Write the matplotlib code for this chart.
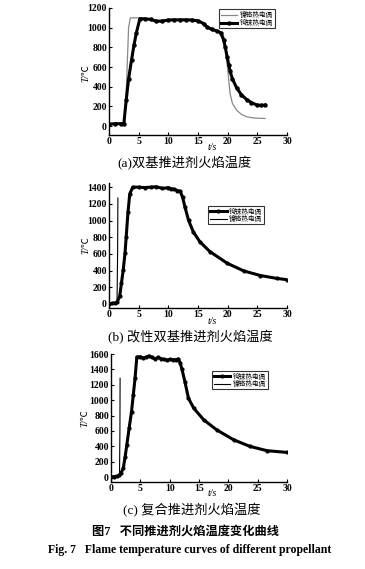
import matplotlib
matplotlib.use("Agg")
import matplotlib.pyplot as plt

plt.rcParams['font.family'] = ['Liberation Serif', 'Noto Sans CJK SC']

# ---- data (a) ----
a_wre_t = [0, 1, 2, 2.5, 2.9, 3.3, 3.8, 4.2, 4.6, 5.2, 6, 7, 8, 9, 10, 11, 12, 13, 14, 15, 16, 16.5, 17.3, 18.2, 18.8, 19.3, 19.6, 19.9, 20.2, 20.4, 20.8, 21.5, 22.3, 23.2, 24, 24.9, 25.6, 26.3]
a_wre_T = [20, 25, 25, 25, 265, 480, 673, 820, 945, 1090, 1090, 1085, 1065, 1068, 1078, 1080, 1080, 1080, 1078, 1070, 1040, 1005, 985, 965, 950, 880, 800, 707, 620, 560, 480, 390, 320, 270, 240, 215, 210, 215]
a_nicr_t = [0, 1, 2, 2.7, 3.0, 3.3, 3.6, 4.5, 5.2, 6, 8, 10, 14, 15, 17, 18.5, 19.3, 19.7, 20.1, 20.4, 20.8, 21.5, 22.3, 23.2, 24.5, 26.3]
a_nicr_T = [20, 25, 25, 30, 500, 1000, 1100, 1100, 1100, 1095, 1070, 1078, 1080, 1070, 1000, 965, 920, 740, 520, 333, 230, 163, 120, 95, 82, 78]

# ---- data (b) ----
b_wre_t = [0, 0.5, 1.0, 1.4, 1.8, 2.1, 2.4, 2.7, 2.9, 3.2, 3.5, 4.0, 5, 6, 7, 8, 9, 10, 10.5, 11, 11.5, 12, 12.4, 12.8, 13.4, 14.2, 15.3, 17, 19.9, 22.7, 25.5, 28.3, 30]
b_wre_T = [0, 5, 10, 25, 90, 250, 410, 610, 805, 1100, 1320, 1400, 1400, 1395, 1400, 1405, 1385, 1395, 1380, 1375, 1360, 1350, 1280, 1163, 1004, 865, 746, 627, 488, 395, 340, 305, 290]
b_nicr_t = [0, 1.0, 1.35, 1.45, 1.5]
b_nicr_T = [0, 0, 20, 600, 1270]

# ---- data (c) ----
c_wre_t = [0, 0.5, 1.0, 1.3, 1.7, 2.1, 2.4, 2.7, 3.1, 3.5, 3.8, 4.1, 4.4, 5, 5.5, 6, 6.5, 7, 7.5, 8, 8.5, 9, 9.5, 10, 10.5, 11, 11.5, 11.8, 12.1, 12.6, 13.2, 14.1, 15.8, 18, 20.9, 23.7, 26.6, 30]
c_wre_T = [0, 5, 10, 20, 50, 117, 260, 420, 640, 852, 1070, 1284, 1560, 1565, 1545, 1560, 1575, 1555, 1535, 1555, 1540, 1530, 1520, 1530, 1525, 1525, 1535, 1480, 1400, 1240, 1025, 895, 744, 614, 484, 398, 342, 320]
c_nicr_t = [0, 1.0, 1.45, 1.52, 1.55]
c_nicr_T = [0, 0, 20, 600, 1284]

lab_nicr = '镍铬热电偶'
lab_wre = '钨铼热电偶'

fig = plt.figure(figsize=(3.65, 5.69), dpi=100)
W, H = 365, 569

def make_ax(left, right, top, bottom):
    return fig.add_axes([left / W, 1 - bottom / H, (right - left) / W, (bottom - top) / H])

def style(ax, ylim, yticks, box, xlab_y, ylab_x, ylab_y):
    left, right, top, bottom = box
    ax.set_xlim(0, 30)
    ax.set_ylim(*ylim)
    ax.set_xticks([0, 5, 10, 15, 20, 25, 30])
    ax.set_yticks(yticks)
    for s in ['top', 'right']:
        ax.spines[s].set_visible(False)
    for s in ['left', 'bottom']:
        ax.spines[s].set_linewidth(1.0)
    ax.tick_params(direction='in', length=2.5, width=0.8, labelsize=7, pad=1.5)
    for lbl in ax.get_xticklabels() + ax.get_yticklabels():
        lbl.set_fontweight('bold')
    ax.set_ylabel('T/℃', fontsize=7, fontstyle='italic')
    ax.set_xlabel('t/s', fontsize=7, fontstyle='italic')
    ax.xaxis.label.set_va('center')
    ax.yaxis.label.set_va('center')
    ax.xaxis.set_label_coords((212 - left) / (right - left), -(xlab_y - bottom) / (bottom - top))
    ax.yaxis.set_label_coords((ylab_x - left) / (right - left), (bottom - ylab_y) / (bottom - top))

legkw = dict(fontsize=4.8, frameon=True, fancybox=False, edgecolor='black',
             handlelength=2.5, borderpad=0.3, labelspacing=0.1, handletextpad=0.4,
             borderaxespad=0.2)

# (a)
box1 = (109, 287, 8, 135)
ax1 = make_ax(*box1)
l1, = ax1.plot(a_nicr_t, a_nicr_T, color='#888888', lw=0.9, label=lab_nicr)
l2, = ax1.plot(a_wre_t, a_wre_T, color='black', lw=2.2, marker='o', ms=2.2, label=lab_wre)
style(ax1, (-90, 1200), [0, 200, 400, 600, 800, 1000, 1200], box1, 147, 86, 73)
lg = ax1.legend(handles=[l1, l2], loc='upper right', bbox_to_anchor=(0.94, 1.0), **legkw)
lg.get_frame().set_linewidth(0.8)

# (b)
box2 = (109, 287, 183, 308)
ax2 = make_ax(*box2)
m2, = ax2.plot(b_wre_t, b_wre_T, color='black', lw=2.2, marker='o', ms=2.0, label=lab_wre)
n2, = ax2.plot(b_nicr_t, b_nicr_T, color='black', lw=0.8, label=lab_nicr)
style(ax2, (-50, 1450), [0, 200, 400, 600, 800, 1000, 1200, 1400], box2, 322, 86, 245)
lg = ax2.legend(handles=[m2, n2], loc='upper right', bbox_to_anchor=(0.88, 0.83), **legkw)
lg.get_frame().set_linewidth(0.8)

# (c)
box3 = (111, 287, 354, 482)
ax3 = make_ax(*box3)
m3, = ax3.plot(c_wre_t, c_wre_T, color='black', lw=2.2, marker='o', ms=2.0, label=lab_wre)
n3, = ax3.plot(c_nicr_t, c_nicr_T, color='black', lw=0.8, label=lab_nicr)
style(ax3, (-65, 1600), [0, 200, 400, 600, 800, 1000, 1200, 1400, 1600], box3, 493, 85, 418)
lg = ax3.legend(handles=[m3, n3], loc='upper right', bbox_to_anchor=(0.9, 0.88), **legkw)
lg.get_frame().set_linewidth(0.8)

# captions
fig.text(185 / W, 1 - 163 / H, '(a)双基推进剂火焰温度', ha='center', va='center', fontsize=9.5)
fig.text(190 / W, 1 - 337 / H, '(b) 改性双基推进剂火焰温度', ha='center', va='center', fontsize=9.5)
fig.text(192 / W, 1 - 510 / H, '(c) 复合推进剂火焰温度', ha='center', va='center', fontsize=9.5)
fig.text(186 / W, 1 - 532 / H, '图7   不同推进剂火焰温度变化曲线', ha='center', va='center',
         fontsize=8.8, fontweight='bold')
fig.text(190 / W, 1 - 550 / H, 'Fig. 7   Flame temperature curves of different propellant',
         ha='center', va='center', fontsize=8.5, fontweight='bold')

fig.savefig('out.png', dpi=100)
